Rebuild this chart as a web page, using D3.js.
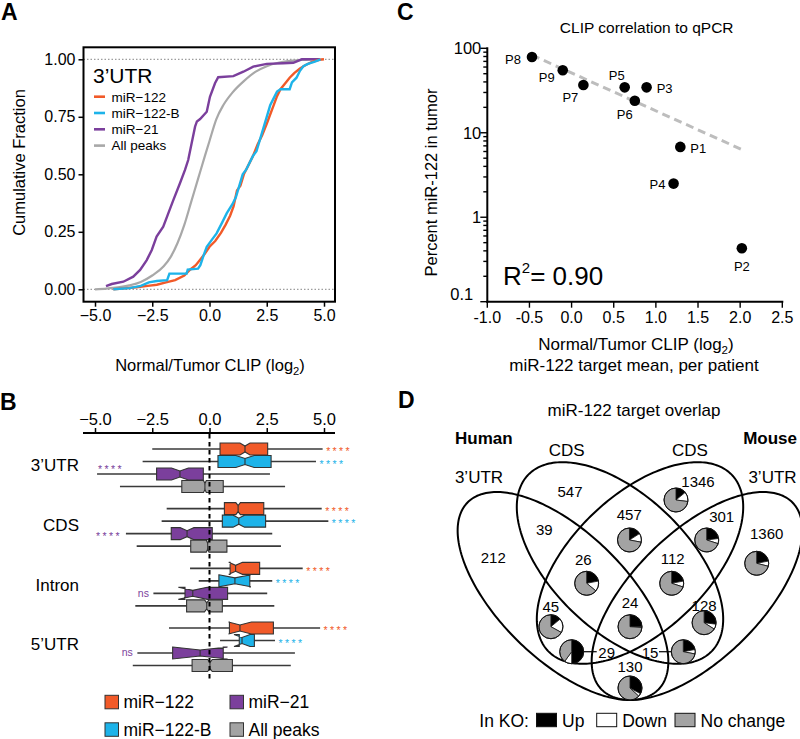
<!DOCTYPE html>
<html><head><meta charset="utf-8">
<script src="https://cdn.jsdelivr.net/npm/d3@7/dist/d3.min.js"></script>
<style>
html,body{margin:0;padding:0;background:#fff;}
svg text{font-family:"Liberation Sans",Arial,Helvetica,sans-serif;}
</style></head><body>
<svg id="fig" width="800" height="739" viewBox="0 0 800 739"></svg>
<script>
// ================= DATA =================
const seriesNames = ["miR−122", "miR−122-B", "miR−21", "All peaks"];

// Panel A: cumulative distributions (log2 Normal/Tumor CLIP, cumulative fraction)
const ecdf_miR122 = [[-4.2,0],[-3.7,0.004],[-3.2,0.009],[-2.7,0.015],[-2.3,0.02],[-1.9,0.03],[-1.5,0.04],[-1.1,0.06],[-0.85,0.085],[-0.6,0.105],[-0.4,0.13],[-0.2,0.155],[0.0,0.185],[0.25,0.21],[0.5,0.245],[0.7,0.28],[0.9,0.32],[1.05,0.36],[1.2,0.43],[1.35,0.45],[1.5,0.5],[1.7,0.54],[1.9,0.58],[2.1,0.63],[2.3,0.67],[2.5,0.72],[2.65,0.76],[2.8,0.8],[2.95,0.84],[3.1,0.87],[3.3,0.895],[3.5,0.92],[3.7,0.94],[3.95,0.96],[4.2,0.975],[4.5,0.99],[4.8,0.998],[5.0,1.0]];
const ecdf_miR122B = [[-4.2,0],[-3.5,0.005],[-3.0,0.015],[-2.65,0.03],[-2.3,0.036],[-1.85,0.04],[-1.75,0.068],[-1.0,0.068],[-0.95,0.086],[-0.5,0.09],[-0.4,0.105],[-0.25,0.15],[-0.12,0.185],[0.1,0.215],[0.31,0.243],[0.55,0.29],[0.75,0.33],[1.0,0.37],[1.15,0.4],[1.3,0.45],[1.45,0.5],[1.6,0.52],[1.75,0.55],[1.9,0.58],[2.05,0.6],[2.2,0.65],[2.35,0.7],[2.5,0.75],[2.65,0.8],[2.8,0.83],[2.95,0.86],[3.1,0.87],[3.5,0.87],[3.6,0.9],[3.8,0.92],[3.95,0.95],[4.1,0.97],[4.3,0.98],[4.6,0.99],[4.85,1.0]];
const ecdf_miR21 = [[-4.52,0.014],[-4.27,0.023],[-3.76,0.033],[-3.33,0.055],[-3.03,0.084],[-2.74,0.127],[-2.52,0.171],[-2.31,0.229],[-2.02,0.272],[-1.8,0.33],[-1.58,0.388],[-1.29,0.461],[-1.07,0.519],[-0.93,0.562],[-0.78,0.635],[-0.63,0.707],[-0.55,0.73],[-0.41,0.74],[-0.12,0.772],[0.02,0.837],[0.24,0.896],[0.38,0.922],[1.04,0.927],[1.48,0.946],[1.91,0.968],[2.5,0.98],[3.22,0.983],[3.66,0.985],[4.03,1.0],[4.83,1.0]];
const ecdf_allPeaks = [[-5.0,0],[-4.5,0.003],[-4.0,0.008],[-3.5,0.017],[-3.0,0.032],[-2.5,0.06],[-2.0,0.1],[-1.7,0.14],[-1.4,0.2],[-1.1,0.28],[-0.8,0.38],[-0.5,0.48],[-0.2,0.58],[0.0,0.645],[0.3,0.74],[0.6,0.8],[1.0,0.855],[1.5,0.905],[2.0,0.945],[2.5,0.97],[3.0,0.985],[3.5,0.993],[4.0,0.997],[4.5,1.0]];
const log2Ticks = [-5, -2.5, 0, 2.5, 5];
const fracTicks = [0, 0.25, 0.5, 0.75, 1];

// Panel B: notched box plots per region
// each row: [whiskerLow, Q1, median, Q3, whiskerHigh, notchHalfWidth]
const regions = ["3’UTR", "CDS", "Intron", "5’UTR"];
const box_3UTR   = [[-2.50,0.46,1.55,2.54,4.94,0.22],[-2.92,0.37,1.55,2.69,4.65,0.40],[-4.91,-2.31,-1.29,-0.27,2.64,0.37],[-3.91,-1.21,-0.20,0.60,3.30,0.06]];
const box_CDS    = [[-1.87,0.65,1.25,2.37,4.90,0.10],[-2.09,0.56,1.28,2.45,5.19,0.25],[-3.65,-1.67,-0.98,0.12,2.74,0.30],[-3.18,-0.82,-0.08,0.76,3.12,0.06]];
const box_Intron = [[-0.85,0.90,1.14,2.19,4.07,0.30],[-0.47,0.41,1.11,1.76,2.74,0.70],[-2.45,-1.07,-0.73,0.79,2.52,0.63],[-3.24,-1.00,-0.12,0.56,2.83,0.10]];
const box_5UTR   = [[-1.77,0.87,1.33,2.79,4.83,0.50],[0.46,1.30,1.42,1.96,2.86,0.35],[-3.15,-1.61,-0.41,0.60,3.73,1.20],[-3.35,-0.76,0.02,1.00,3.55,0.10]];
const sig_3UTR   = ["****","****","****",null];
const sig_CDS    = ["****","****","****",null];
const sig_Intron = ["****","****","ns",null];
const sig_5UTR   = ["****","****","ns",null];

// Panel C: per patient
const patients  = ["P1","P2","P3","P4","P5","P6","P7","P8","P9"];
const clipLog2  = [1.29, 2.02, 0.89, 1.21, 0.63, 0.75, 0.14, -0.47, -0.105];
const pctMiR122 = [6.8, 0.43, 34.5, 2.5, 34.5, 23.9, 36.7, 79, 55];
const fitX = [-0.47, 2.04];
const fitY = [83, 6.2];
const r2Value = "0.90";
const clipTicks = [-1.0,-0.5,0.0,0.5,1.0,1.5,2.0,2.5];
const pctTicks = [0.1, 1, 10, 100];

// Panel D: miR-122 target overlap
const vennSets = ["Human 3’UTR","Human CDS","Mouse CDS","Mouse 3’UTR"];
const vennRegions = ["H3","HC","MC","M3","H3&HC","HC&MC","MC&M3","H3&HC&MC","HC&MC&M3","all","H3&MC","HC&M3","H3&MC&M3","H3&HC&M3","H3&M3"];
const vennCounts  = [212, 547, 1346, 1360, 39, 457, 301, 26, 112, 24, 45, 128, 29, 15, 130];
const vennUp      = [null, null, 0.14, 0.22, null, 0.16, 0.23, 0.22, 0.22, 0.25, 0.14, 0.27, 0.50, 0.22, 0.33];
const vennDown    = [null, null, 0.13, 0.07, null, 0.12, 0.07, 0.14, 0.08, 0.01, 0.19, 0.07, 0.10, 0.06, 0.04];
const koLegend = ["Up","Down","No change"];

// ================= LAYOUT / STYLE =================
const svg = d3.select("#fig");
const col = {"miR−122":"#F15A29","miR−122-B":"#1DB3E9","miR−21":"#7B3F9C","All peaks":"#A3A3A3"};
const ink = "#000";

function label(x, y, s, size, o = {}) {
  const t = svg.append("text").attr("x", x).attr("y", y).attr("font-size", size)
    .attr("text-anchor", o.anchor || "start").attr("fill", o.fill || ink);
  if (o.bold) t.attr("font-weight", "bold");
  if (o.rot) t.attr("transform", `rotate(${o.rot},${x},${y})`);
  if (o.ls) t.attr("letter-spacing", o.ls);
  t.text(s);
  return t;
}
function log2Label(x, y, size, pre) {
  const t = svg.append("text").attr("x", x).attr("y", y).attr("font-size", size).attr("text-anchor", "middle");
  t.append("tspan").text(pre + "Normal/Tumor CLIP (log");
  t.append("tspan").attr("font-size", size * 0.68).attr("dy", 4).text("2");
  t.append("tspan").attr("dy", -4).text(")");
}
function styleAxis(g, size) {
  g.attr("font-size", size).attr("font-family", null);
  g.selectAll(".tick line").attr("stroke", ink).attr("stroke-width", 1.5);
  g.selectAll(".tick text").attr("fill", ink);
}

// Panel letters
label(1, 20, "A", 23, {bold: true});
label(397, 20, "C", 23, {bold: true});
label(0, 410, "B", 23, {bold: true});
label(398, 408, "D", 23, {bold: true});

// ================= PANEL A =================
const xA = d3.scaleLinear().domain([-5, 5]).range([95, 324]);
const yA = d3.scaleLinear().domain([0, 1]).range([289.3, 59.3]);
const frameA = {l: 83.5, r: 335, t: 47.3, b: 301.7};

[0, 1].forEach(v => svg.append("line").attr("x1", frameA.l).attr("x2", frameA.r)
  .attr("y1", yA(v)).attr("y2", yA(v)).attr("stroke", "#666").attr("stroke-width", 0.8)
  .attr("stroke-dasharray", "1.5,2"));

const lineA = d3.line().x(d => xA(d[0])).y(d => yA(d[1]));
svg.append("path").attr("d", d3.line().x(d => xA(d[0])).y(d => yA(d[1])).curve(d3.curveMonotoneX)(ecdf_allPeaks))
  .attr("fill", "none").attr("stroke", "#A8A8A8").attr("stroke-width", 2.2);
svg.append("path").attr("d", lineA(ecdf_miR21)).attr("fill", "none").attr("stroke", col["miR−21"]).attr("stroke-width", 2.4);
svg.append("path").attr("d", lineA(ecdf_miR122)).attr("fill", "none").attr("stroke", col["miR−122"]).attr("stroke-width", 2.4);
svg.append("path").attr("d", lineA(ecdf_miR122B)).attr("fill", "none").attr("stroke", col["miR−122-B"]).attr("stroke-width", 2.4);

svg.append("rect").attr("x", frameA.l).attr("y", frameA.t).attr("width", frameA.r - frameA.l)
  .attr("height", frameA.b - frameA.t).attr("fill", "none").attr("stroke", ink).attr("stroke-width", 2);

const gAx = svg.append("g").attr("transform", `translate(0,${frameA.b})`)
  .call(d3.axisBottom(xA).tickValues(log2Ticks).tickFormat(d3.format(".1f")).tickSize(5).tickSizeOuter(0));
gAx.select(".domain").remove(); styleAxis(gAx, 16);
const gAy = svg.append("g").attr("transform", `translate(${frameA.l},0)`)
  .call(d3.axisLeft(yA).tickValues(fracTicks).tickFormat(d3.format(".2f")).tickSize(5).tickSizeOuter(0));
gAy.select(".domain").remove(); styleAxis(gAy, 16);

label(24.5, 162.5, "Cumulative Fraction", 16.5, {anchor: "middle", rot: -90});
log2Label(210, 371, 16.5, "");

// legend A
label(93, 83.3, "3’UTR", 21);
const legColsA = [col["miR−122"], col["miR−122-B"], col["miR−21"], "#A8A8A8"];
seriesNames.forEach((s, i) => {
  const y = 96.7 + i * 16.3;
  svg.append("line").attr("x1", 94).attr("x2", 105).attr("y1", y).attr("y2", y)
    .attr("stroke", legColsA[i]).attr("stroke-width", 2.6);
  label(111.5, y + 4.8, s, 13.5);
});

// ================= PANEL B =================
const xB = d3.scaleLinear().domain([-5, 5]).range([95, 324]);
const yBand = d3.scaleBand().domain(regions).range([442.75, 671.75]).paddingInner(0.162);
const ySub = d3.scaleBand().domain(seriesNames).range([0, yBand.bandwidth()]);
const boxData = {"3’UTR": box_3UTR, "CDS": box_CDS, "Intron": box_Intron, "5’UTR": box_5UTR};
const sigData = {"3’UTR": sig_3UTR, "CDS": sig_CDS, "Intron": sig_Intron, "5’UTR": sig_5UTR};

// axis
const gBx = svg.append("g").attr("transform", "translate(0,433)")
  .call(d3.axisTop(xB).tickValues(log2Ticks).tickFormat(d3.format(".1f")).tickSize(5).tickSizeOuter(0));
gBx.select(".domain").remove(); styleAxis(gBx, 16.5);
svg.append("line").attr("x1", 83).attr("x2", 335).attr("y1", 433).attr("y2", 433).attr("stroke", ink).attr("stroke-width", 2.2);

const boxH = 12;
const starSize = 10.5, starLS = 2.4;
regions.forEach(r => {
  const y0 = yBand(r);
  label(79, y0 + yBand.bandwidth() / 2 + 3.5, r, 17, {anchor: "end"});
  boxData[r].forEach((s, i) => {
    const name = seriesNames[i];
    const yc = y0 + ySub(name) + ySub.bandwidth() / 2;
    const [lo, q1, med, q3, hi, nh] = s;
    svg.append("line").attr("x1", xB(lo)).attr("x2", xB(hi)).attr("y1", yc).attr("y2", yc)
      .attr("stroke", "#3a3a3a").attr("stroke-width", 1.6);
    const t = yc - boxH / 2, b = yc + boxH / 2, ni = boxH * 0.25;
    const nl = med - nh, nu = med + nh;
    const p = [[q1, t], [nl, t], [med, t + ni], [nu, t], [q3, t], [q3, b], [nu, b], [med, b - ni], [nl, b], [q1, b]];
    svg.append("path").attr("d", d3.line().x(d => xB(d[0])).y(d => d[1])(p) + "Z")
      .attr("fill", col[name]).attr("stroke", "#333").attr("stroke-width", 1.1).attr("stroke-linejoin", "miter");
    svg.append("line").attr("x1", xB(med)).attr("x2", xB(med)).attr("y1", t + ni).attr("y2", b - ni)
      .attr("stroke", "#333").attr("stroke-width", 1.1);
    const sg = sigData[r][i];
    if (sg) {
      if (sg === "ns") {
        label(xB(lo) - 4.5, yc + 3.2, sg, 10.5, {anchor: "end", fill: col[name]});
      } else if (i === 2) {
        if (r === "3’UTR") label(xB(lo) + 1, yc - 1, sg, starSize, {fill: col[name], ls: starLS});
        else label(xB(lo) - 4, yc + 6.2, sg, starSize, {anchor: "end", fill: col[name], ls: starLS});
      } else {
        label(xB(hi) + 3.5, yc + 6.2, sg, starSize, {fill: col[name], ls: starLS});
      }
    }
  });
});
svg.append("line").attr("x1", xB(0)).attr("x2", xB(0)).attr("y1", 434).attr("y2", 681)
  .attr("stroke", ink).attr("stroke-width", 2).attr("stroke-dasharray", "4.5,3.5");

// legend B
seriesNames.forEach((s, i) => {
  const x = [105, 105, 230, 230][i];
  const y = [702, 729.5, 702, 729.5][i];
  svg.append("rect").attr("x", x).attr("y", y - 6.7).attr("width", 13.5).attr("height", 13.5)
    .attr("fill", col[s]).attr("stroke", "#333").attr("stroke-width", 1);
  label(x + 18.5, y + 6.2, s, 17.5);
});

// ================= PANEL C =================
const xC = d3.scaleLinear().domain([-1, 2.5]).range([487.3, 782.3]);
const yC = d3.scaleLog().domain([0.1, 100]).range([301.7, 48.3]);

label(646.7, 32.5, "CLIP correlation to qPCR", 15.5, {anchor: "middle"});
svg.append("line").attr("x1", xC(-1)).attr("x2", xC(-1)).attr("y1", yC(100) - 1).attr("y2", yC(0.1) + 1).attr("stroke", ink).attr("stroke-width", 2);
svg.append("line").attr("x1", xC(-1) - 1).attr("x2", xC(2.5) + 1).attr("y1", yC(0.1)).attr("y2", yC(0.1)).attr("stroke", ink).attr("stroke-width", 2);
yC.ticks().forEach(v => {
  const major = Math.abs(Math.log10(v) - Math.round(Math.log10(v))) < 1e-9;
  svg.append("line").attr("x1", xC(-1)).attr("x2", xC(-1) - (major ? 7 : 4)).attr("y1", yC(v)).attr("y2", yC(v))
    .attr("stroke", ink).attr("stroke-width", 1.4);
});
pctTicks.forEach(v => {
  const isLow = v === 0.1;
  label(xC(-1) - (isLow ? 14 : 6), yC(v) + 5.8 - (isLow ? 8 : 0), String(v), 16.5, {anchor: "end"});
});
clipTicks.forEach(v => {
  svg.append("line").attr("x1", xC(v)).attr("x2", xC(v)).attr("y1", yC(0.1)).attr("y2", yC(0.1) + 6)
    .attr("stroke", ink).attr("stroke-width", 1.4);
  label(xC(v), yC(0.1) + 21, v.toFixed(1), 16, {anchor: "middle"});
});
label(436.7, 182.5, "Percent miR-122 in tumor", 16.5, {anchor: "middle", rot: -90});
log2Label(636, 350, 17, "");
label(634, 371, "miR-122 target mean, per patient", 17, {anchor: "middle"});

svg.append("line").attr("x1", xC(fitX[0])).attr("y1", yC(fitY[0])).attr("x2", xC(fitX[1])).attr("y2", yC(fitY[1]))
  .attr("stroke", "#BDBDBD").attr("stroke-width", 3).attr("stroke-dasharray", "8,5");
const pOff = {P1:[18,6], P2:[0,23], P3:[18,5.5], P4:[-16,5], P5:[-8,-7], P6:[-10,18], P7:[-13,17], P8:[-19,7], P9:[-16,12]};
patients.forEach((p, i) => {
  const x = xC(clipLog2[i]), y = yC(pctMiR122[i]);
  svg.append("circle").attr("cx", x).attr("cy", y).attr("r", 5.3).attr("fill", ink);
  label(x + pOff[p][0], y + pOff[p][1], p, 13, {anchor: "middle"});
});
const r2t = svg.append("text").attr("x", 503).attr("y", 285).attr("font-size", 26);
r2t.append("tspan").text("R");
r2t.append("tspan").attr("font-size", 15).attr("dy", -12).text("2");
r2t.append("tspan").attr("dy", 12).text("= " + r2Value);

// ================= PANEL D =================
const xV = d3.scaleLinear().domain([0, 1]).range([458, 802]);
const yV = d3.scaleLinear().domain([0, 1]).range([462, 806]);
const vennEllipses = [
  {cx: 0.3052, cy: 0.3895, a: 0.3884, b: 0.1852, rot: 44.4},
  {cx: 0.4709, cy: 0.2936, a: 0.3700, b: 0.1975, rot: 43.8},
  {cx: 0.5291, cy: 0.2936, a: 0.3700, b: 0.1975, rot: 136.2},
  {cx: 0.6948, cy: 0.3895, a: 0.3884, b: 0.1852, rot: 135.6}
];
label(634, 416, "miR-122 target overlap", 17, {anchor: "middle"});
label(455, 444, "Human", 17, {bold: true});
label(797, 444, "Mouse", 17, {bold: true, anchor: "end"});
label(566.7, 456, "CDS", 17, {anchor: "middle"});
label(690, 456, "CDS", 17, {anchor: "middle"});
label(479, 483, "3’UTR", 17, {anchor: "middle"});
label(772.5, 483, "3’UTR", 17, {anchor: "middle"});

const ellLine = d3.line().x(d => xV(d[0])).y(d => yV(d[1])).curve(d3.curveLinearClosed);
vennEllipses.forEach(e => {
  const phi = e.rot * Math.PI / 180, pts = [];
  for (let k = 0; k < 240; k++) {
    const t = k / 240 * 2 * Math.PI;
    pts.push([e.cx + e.a * Math.cos(t) * Math.cos(phi) - e.b * Math.sin(t) * Math.sin(phi),
              e.cy + e.a * Math.cos(t) * Math.sin(phi) + e.b * Math.sin(t) * Math.cos(phi)]);
  }
  svg.append("path").attr("d", ellLine(pts)).attr("fill", "none").attr("stroke", ink).attr("stroke-width", 2);
});

// region layout: label position and pie position (venn units)
const vennLayout = {
  "H3": {lab: [0.1026, 0.2782]},
  "HC": {lab: [0.3256, 0.0863]},
  "MC": {lab: [0.6977, 0.0581], pie: [0.6337, 0.1105]},
  "M3": {lab: [0.8974, 0.2093], pie: [0.8683, 0.2945]},
  "H3&HC": {lab: [0.2509, 0.1977]},
  "HC&MC": {lab: [0.4980, 0.1541], pie: [0.4985, 0.2267]},
  "MC&M3": {lab: [0.7666, 0.1599], pie: [0.7230, 0.2267]},
  "H3&HC&MC": {lab: [0.3642, 0.2849], pie: [0.3741, 0.3526]},
  "HC&MC&M3": {lab: [0.6241, 0.2820], pie: [0.6212, 0.3526]},
  "all": {lab: [0.5, 0.4099], pie: [0.5, 0.4788]},
  "H3&MC": {lab: [0.2700, 0.4206], pie: [0.2700, 0.4788]},
  "HC&M3": {lab: [0.7154, 0.4186], pie: [0.7154, 0.4671]},
  "H3&MC&M3": {lab: [0.4323, 0.5552], pie: [0.3305, 0.5515], lead: "left"},
  "H3&HC&M3": {lab: [0.5581, 0.5552], pie: [0.6549, 0.5515], lead: "right"},
  "H3&M3": {lab: [0.5, 0.5959], pie: [0.5, 0.6570]}
};
const pieR = 12;
const pieGen = d3.pie().sort(null).value(d => d);
const arcGen = d3.arc().innerRadius(0).outerRadius(pieR);
const pieFill = ["#000", "#fff", "#A3A3A3"];
vennRegions.forEach((r, i) => {
  const L = vennLayout[r];
  label(xV(L.lab[0]), yV(L.lab[1]) + 5.3, String(vennCounts[i]), 15, {anchor: "middle"});
  if (L.pie) {
    const px = xV(L.pie[0]), py = yV(L.pie[1]);
    const vals = [vennUp[i], vennDown[i], 1 - vennUp[i] - vennDown[i]];
    const g = svg.append("g").attr("transform", `translate(${px},${py})`);
    g.selectAll("path").data(pieGen(vals)).enter().append("path").attr("d", arcGen)
      .attr("fill", (d, j) => pieFill[j]).attr("stroke", "#111").attr("stroke-width", 0.8);
    g.append("circle").attr("r", pieR).attr("fill", "none").attr("stroke", "#111").attr("stroke-width", 1);
    if (L.lead === "left") {
      svg.append("line").attr("x1", px + pieR).attr("x2", xV(L.lab[0]) - 10).attr("y1", py).attr("y2", py).attr("stroke", ink).attr("stroke-width", 1.2);
    } else if (L.lead === "right") {
      svg.append("line").attr("x1", xV(L.lab[0]) + 9).attr("x2", px - pieR).attr("y1", py).attr("y2", py).attr("stroke", ink).attr("stroke-width", 1.2);
    }
  }
});

// legend D
label(479.3, 727, "In KO:", 17.5);
const koX = [536.5, 596.7, 675];
koLegend.forEach((k, i) => {
  svg.append("rect").attr("x", koX[i]).attr("y", 713.3).attr("width", 20).attr("height", 13.4)
    .attr("fill", pieFill[i]).attr("stroke", "#111").attr("stroke-width", 1);
  label(koX[i] + 25.5, 727, k, 17.5);
});
</script>
</body></html>
